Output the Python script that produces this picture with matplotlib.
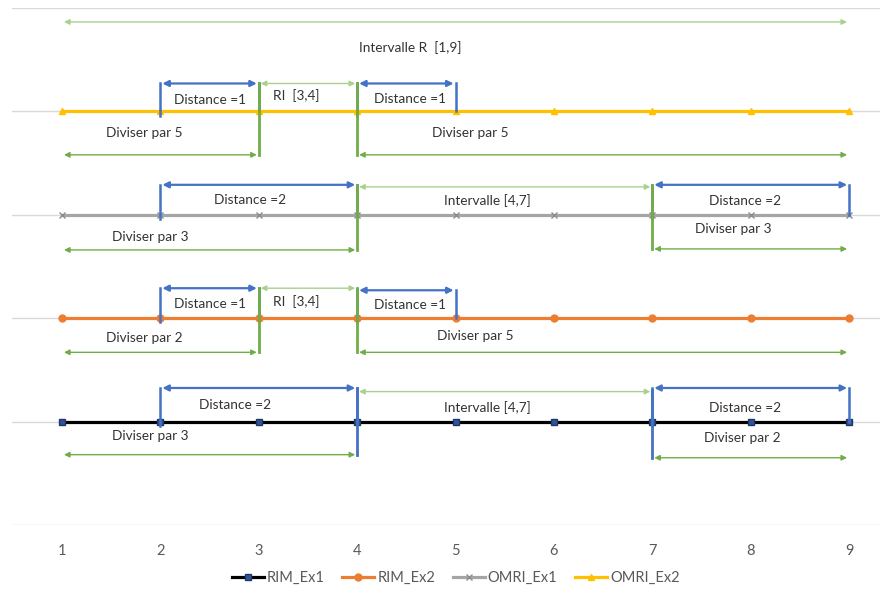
import matplotlib.pyplot as plt

plt.rcParams['font.family'] = ['Lato', 'DejaVu Sans']

# series
x_vals = [1, 2, 3, 4, 5, 6, 7, 8, 9]
rim_ex1 = [1, 1, 1, 1, 1, 1, 1, 1, 1]
rim_ex2 = [2, 2, 2, 2, 2, 2, 2, 2, 2]
omri_ex1 = [3, 3, 3, 3, 3, 3, 3, 3, 3]
omri_ex2 = [4, 4, 4, 4, 4, 4, 4, 4, 4]

# blue "Distance" brackets: (x start, x end, base level, arrow level, label, label x, label y)
distance_brackets = [
    (2, 3, 4, 4.27, 'Distance =1', 2.5, 4.11),
    (4, 5, 4, 4.27, 'Distance =1', 4.54, 4.12),
    (2, 4, 3, 3.29, 'Distance =2', 2.91, 3.14),
    (7, 9, 3, 3.29, 'Distance =2', 7.94, 3.13),
    (2, 3, 2, 2.29, 'Distance =1', 2.5, 2.14),
    (4, 5, 2, 2.27, 'Distance =1', 4.54, 2.13),
    (2, 4, 1, 1.325, 'Distance =2', 2.76, 1.16),
    (7, 9, 1, 1.325, 'Distance =2', 7.94, 1.13),
]

# thin green interval arrows: (x start, x end, level, label, label x, label y)
interval_arrows = [
    (1, 9, 4.865, 'Intervalle R  [1,9]', 4.54, 4.62),
    (3, 4, 4.27, 'RI  [3,4]', 3.38, 4.15),
    (4, 7, 3.27, 'Intervalle [4,7]', 5.32, 3.14),
    (3, 4, 2.29, 'RI  [3,4]', 3.38, 2.16),
    (4, 7, 1.29, 'Intervalle [4,7]', 5.32, 1.14),
]

# "Diviser par" arrows: (x start, x end, level, label, label x, label y)
divide_arrows = [
    (1, 3, 3.58, 'Diviser par 5', 1.84, 3.79),
    (4, 9, 3.58, 'Diviser par 5', 5.15, 3.79),
    (1, 4, 2.66, 'Diviser par 3', 1.9, 2.79),
    (7, 9, 2.67, 'Diviser par 3', 7.82, 2.86),
    (1, 3, 1.67, 'Diviser par 2', 1.84, 1.81),
    (4, 9, 1.67, 'Diviser par 5', 5.2, 1.83),
    (1, 4, 0.68, 'Diviser par 3', 1.9, 0.86),
    (7, 9, 0.65, 'Diviser par 2', 7.92, 0.84),
]

# vertical separators: (x, y bottom, y top, colour name)
separators = [
    (3, 3.58, 4.27, 'green'), (4, 3.58, 4.27, 'green'),
    (4, 2.66, 3.29, 'green'), (7, 2.67, 3.29, 'green'),
    (3, 1.67, 2.29, 'green'), (4, 1.67, 2.29, 'green'),
    (4, 0.68, 1.325, 'blue'), (7, 0.65, 1.31, 'blue'),
]

BLUE = '#4472C4'
GREEN = '#70AD47'
LIGHT_GREEN = '#A9D18E'
TEXT = '#333333'
sep_colors = {'green': GREEN, 'blue': BLUE}

fig = plt.figure(figsize=(8.85, 5.93), dpi=100)
ax = fig.add_axes([0.0136, 0.1147, 0.9808, 0.8718])

ax.plot(x_vals, rim_ex1, color='black', lw=2.3, marker='s', ms=4,
        mfc='#2F5597', mec='#1F3864', label='RIM_Ex1', zorder=3)
ax.plot(x_vals, rim_ex2, color='#ED7D31', lw=2.3, marker='o', ms=5,
        label='RIM_Ex2', zorder=3)
ax.plot(x_vals, omri_ex1, color='#A5A5A5', lw=2.3, marker='x', ms=4,
        mec='#8C8C8C', label='OMRI_Ex1', zorder=3)
ax.plot(x_vals, omri_ex2, color='#FFC000', lw=2.3, marker='^', ms=4.5,
        label='OMRI_Ex2', zorder=3)


def double_arrow(x0, x1, y, color, lw, ms):
    ax.annotate('', xy=(x1, y), xytext=(x0, y),
                arrowprops=dict(arrowstyle='<|-|>', color=color, lw=lw,
                                mutation_scale=ms, shrinkA=0, shrinkB=0),
                zorder=4)


for x0, x1, base, top, label, tx, ty in distance_brackets:
    ax.plot([x0, x0], [base - 0.04, top], color=BLUE, lw=1.8, zorder=4)
    ax.plot([x1, x1], [base, top], color=BLUE, lw=1.8, zorder=4)
    double_arrow(x0 + 0.02, x1 - 0.02, top, BLUE, 1.6, 9)
    ax.text(tx, ty, label, ha='center', va='center', fontsize=9.8, color=TEXT)

for x0, x1, y, label, tx, ty in interval_arrows:
    double_arrow(x0 + 0.02, x1 - 0.02, y, LIGHT_GREEN, 1.0, 8)
    ax.text(tx, ty, label, ha='center', va='center', fontsize=9.8, color=TEXT)

for x0, x1, y, label, tx, ty in divide_arrows:
    double_arrow(x0 + 0.02, x1 - 0.02, y, GREEN, 1.0, 8)
    ax.text(tx, ty, label, ha='center', va='center', fontsize=9.8, color=TEXT)

for sx, y0, y1, c in separators:
    ax.plot([sx, sx], [y0, y1], color=sep_colors[c], lw=2, zorder=5)

ax.set_xlim(0.492, 9.315)
ax.set_ylim(0, 5)
ax.set_xticks(x_vals)
ax.set_yticks([0, 1, 2, 3, 4, 5])
ax.set_yticklabels([])
ax.tick_params(axis='both', length=0, colors='#595959', labelsize=10.5, pad=14)
ax.grid(axis='y', color='#D9D9D9', lw=1)
ax.set_axisbelow(True)
for s in ax.spines.values():
    s.set_visible(False)

fig.legend(loc='center', bbox_to_anchor=(0.515, 0.025), ncol=4, frameon=False,
           fontsize=10.5, handlelength=2.2, columnspacing=1.2, handletextpad=0.2,
           labelcolor='#595959')

fig.savefig('out.png', dpi=100)
